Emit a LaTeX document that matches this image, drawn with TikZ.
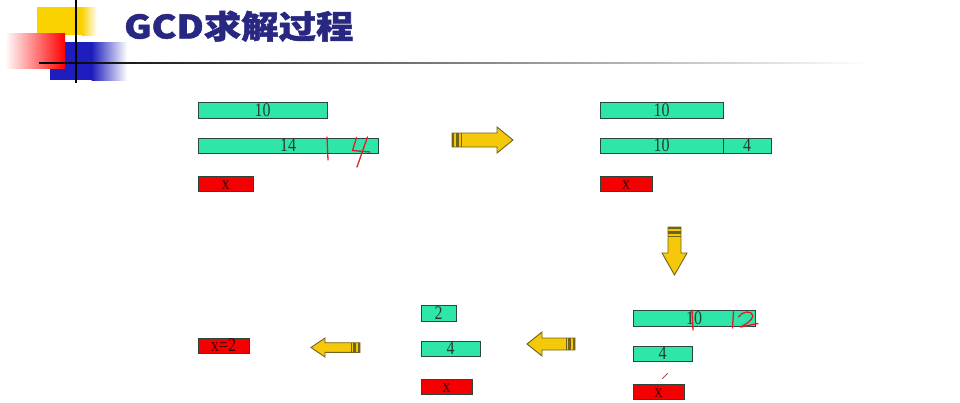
\documentclass[tikz,border=0pt]{standalone}
\usepackage{fontspec}
\setmainfont{Liberation Serif}
\newfontfamily\cjk{Noto Sans CJK SC}[BoldFeatures={FakeBold=1.5}]
\definecolor{teal1}{RGB}{46,230,170}
\definecolor{bord}{RGB}{45,70,60}
\definecolor{txt}{RGB}{40,60,50}
\definecolor{redbox}{RGB}{245,0,0}
\definecolor{ayellow}{RGB}{245,200,10}
\definecolor{aedge}{RGB}{110,100,30}
\definecolor{ink}{RGB}{225,30,40}
\definecolor{titleblue}{RGB}{40,40,130}
\definecolor{decoyellow}{RGB}{250,210,0}
\definecolor{decoblue}{RGB}{30,30,190}
\newcommand{\st}[1]{\scalebox{1}[1.2]{#1}}
\newcommand{\barrow}[7]{%
  \begin{scope}[shift={(#1,#2)},rotate=#3]
    \draw[arrowshape] (0,-#5) -- ({#4-#7},-#5) -- ({#4-#7},-#6) -- (#4,0) -- ({#4-#7},#6) -- ({#4-#7},#5) -- (0,#5) -- cycle;
    \fill[aedge] (0,-#5) rectangle (2.3,#5);
    \fill[aedge] (4,-#5) rectangle (6.7,#5);
    \draw[aedge,line width=0.8pt] (9,-#5) -- (9,#5);
  \end{scope}}
\tikzset{
  tbox/.style={draw=bord, line width=0.9pt, fill=teal1, inner sep=0pt, text=txt,
    font=\fontsize{16}{16}\selectfont},
  rbox/.style={tbox, fill=redbox, text={black!75!red}},
  arrowshape/.style={draw=aedge, fill=ayellow, line width=0.9pt, line join=miter},
  inkline/.style={draw=ink, line width=1.3pt, line cap=round, line join=round},
}
\begin{document}
\begin{tikzpicture}[x=1pt,y=-1pt]
\useasboundingbox (0,0) rectangle (960,402);
% decoration
\fill[decoyellow] (37,7) rectangle (82,35);
\shade[left color=decoyellow, right color=white] (81.5,7) rectangle (97,35);
\fill[decoblue] (50,42) rectangle (92,80);
\shade[left color=decoblue, right color=white] (91.5,42) rectangle (127,80);
\shade[left color=white, right color=red] (5,33) rectangle (65,68);
\shade[left color=black, right color=white] (39,62.2) rectangle (870,63.8);
\fill[black] (75,0) rectangle (77.2,83);
% title
\node[anchor=base west, inner sep=0pt, text=titleblue, font=\cjk\bfseries\fontsize{34}{34}\selectfont] (title) at (124,38.5) {\scalebox{1.1}[0.95]{GCD求解过程}};
% panel 1
\node[tbox, minimum width=129pt, minimum height=16pt] (a1) at (262.5,110) {\st{10}};
\node[tbox, minimum width=180pt, minimum height=15pt] (a2) at (288,145.5) {\st{14}};
\node[rbox, minimum width=55pt, minimum height=15pt] (a3) at (225.5,183.5) {\st{\vphantom{1}x}};
\draw[inkline] (327,137) -- (328,160);
\draw[inkline] (356.5,137.5) -- (352.5,150.5) -- (370,152);
\draw[inkline] (367.5,137) -- (357,167);
% arrow 1
\barrow{452}{140}{0}{61}{7}{13}{16}
% panel 2
\node[tbox, minimum width=123pt, minimum height=16pt] (b1) at (661.5,110) {\st{10}};
\node[tbox, minimum width=123pt, minimum height=15pt] (b2) at (661.5,145.5) {\st{10}};
\node[tbox, minimum width=48pt, minimum height=15pt] (b3) at (747,145.5) {\st{4}};
\node[rbox, minimum width=52pt, minimum height=15pt] (b4) at (626,183.5) {\st{\vphantom{1}x}};
% arrow 2
\barrow{674.5}{227}{-90}{48}{6.5}{12.5}{22}
% panel 3
\node[tbox, minimum width=122pt, minimum height=16pt] (c1) at (694,318) {\st{10}};
\node[tbox, minimum width=59pt, minimum height=15pt] (c2) at (662.5,353.5) {\st{4}};
\node[rbox, minimum width=51pt, minimum height=15pt] (c3) at (658.5,391.5) {\st{\vphantom{1}x}};
\draw[inkline] (692,310) -- (693,330);
\draw[inkline] (733.5,311) -- (732.5,328);
\draw[inkline] (738.5,317) .. controls (742,311) and (752,310) .. (753,316) .. controls (752,321) and (744,325) .. (740.5,327) -- (758,323.5);
\draw[line width=1pt, draw=gray!60!red, line cap=round] (662.5,378.5) -- (667.5,373.5);
% arrow 3
\barrow{575}{344}{180}{48}{6}{12}{15}
% panel 4
\node[tbox, minimum width=35pt, minimum height=16pt] (d1) at (438.5,313) {\st{2}};
\node[tbox, minimum width=59pt, minimum height=15pt] (d2) at (450.5,348.5) {\st{4}};
\node[rbox, minimum width=51pt, minimum height=15pt] (d3) at (446.5,386.5) {\st{\vphantom{1}x}};
% arrow 4
\barrow{360}{347.5}{180}{49}{4.8}{9.5}{14}
% panel 5
\node[rbox, minimum width=51pt, minimum height=15pt] (e1) at (223.5,345.5) {\st{x=2}};
\end{tikzpicture}
\end{document}
